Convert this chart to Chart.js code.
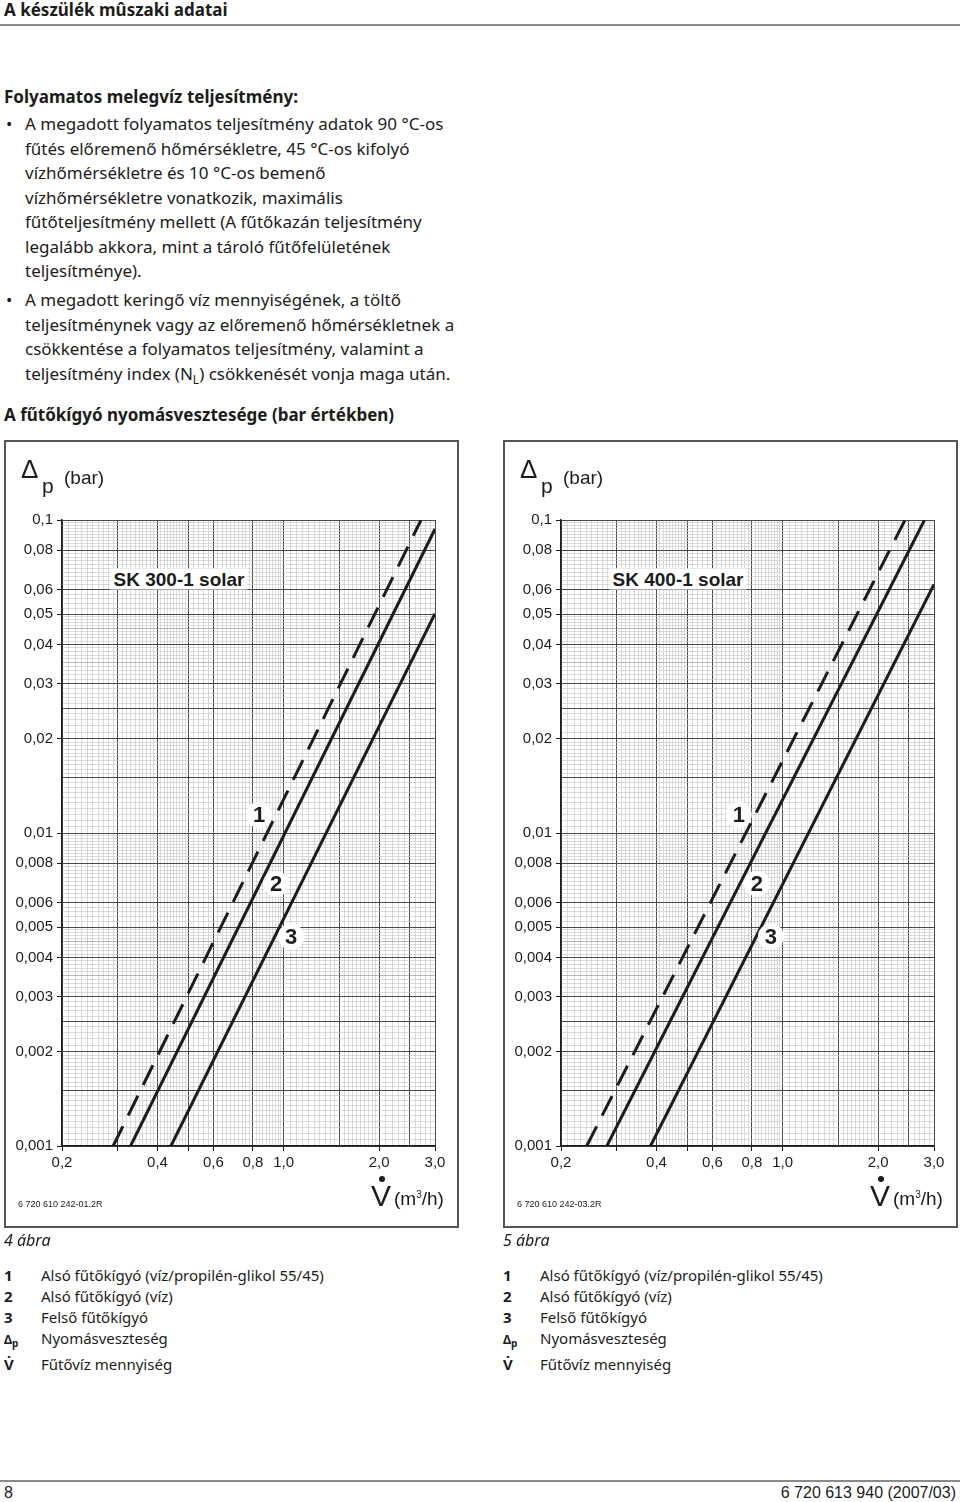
<!DOCTYPE html>
<html lang="hu">
<head>
<meta charset="utf-8">
<title>A készülék műszaki adatai</title>
<script src="https://cdn.jsdelivr.net/npm/chart.js@4.4.1/dist/chart.umd.min.js"></script>
<style>
  body { margin:0; width:960px; height:1502px; position:relative; overflow:hidden; background:#fff; color:#1c1c1c; font-family:"Noto Sans", sans-serif; font-size:17px; }
  .abs { position:absolute; white-space:nowrap; }
  .rule { position:absolute; left:0; width:960px; height:2px; background:#8a8a8a; }
  .bold { font-weight:bold; }
  .para { line-height:24.5px; }
  .box { position:absolute; top:440px; width:455px; height:788px; border:2px solid #555; box-sizing:border-box; }
  .plot { position:absolute; top:440px; width:480px; height:800px; }
  .ov { position:absolute; white-space:nowrap; font-family:"Liberation Sans", Arial, sans-serif; color:#1c1c1c; line-height:1; z-index:3; }
  .sk { font-weight:bold; font-size:19px; background:#fff; padding:1px 3px; transform:translate(-50%,-50%); }
  .legend { line-height:21px; font-size:15px; }
  .legend .k { display:inline-block; width:37px; font-weight:bold; }
  .footer { font-family:"Liberation Sans Narrow", "Liberation Sans", sans-serif; font-stretch:condensed; font-size:16px; }
</style>
</head>
<body>

<div class="abs bold" style="left:4px; top:0; font-size:17px; line-height:20px;">A készülék mûszaki adatai</div>
<div class="rule" style="top:24px;"></div>

<div class="abs bold" style="left:4px; top:85px; line-height:24px;">Folyamatos melegvíz teljesítmény:</div>
<div class="abs" style="left:6px; top:112px; line-height:24.5px;">•</div>
<div class="abs para" style="left:25px; top:112px;">A megadott folyamatos teljesítmény adatok 90 °C-os<br>fűtés előremenő hőmérsékletre, 45 °C-os kifolyó<br>vízhőmérsékletre és 10 °C-os bemenő<br>vízhőmérsékletre vonatkozik, maximális<br>fűtőteljesítmény mellett (A fűtőkazán teljesítmény<br>legalább akkora, mint a tároló fűtőfelületének<br>teljesítménye).</div>
<div class="abs" style="left:6px; top:288px; line-height:24.5px;">•</div>
<div class="abs para" style="left:25px; top:288px;">A megadott keringő víz mennyiségének, a töltő<br>teljesítménynek vagy az előremenő hőmérsékletnek a<br>csökkentése a folyamatos teljesítmény, valamint a<br>teljesítmény index (N<sub style="font-size:12px;">L</sub>) csökkenését vonja maga után.</div>

<div class="abs bold" style="left:4px; top:403px; line-height:24px;">A fűtőkígyó nyomásvesztesége (bar értékben)</div>

<div class="box" style="left:4px;"></div>
<div class="box" style="left:503px;"></div>
<div class="plot" style="left:0;"><canvas id="chartSK300"></canvas></div>
<div class="plot" style="left:480px;"><canvas id="chartSK400"></canvas></div>
<div id="overlays"></div>

<div class="abs" style="left:4px; top:1229px; font-style:italic; font-size:16px; line-height:22px;">4 ábra</div>
<div class="abs" style="left:503px; top:1229px; font-style:italic; font-size:16px; line-height:22px;">5 ábra</div>

<div class="abs legend" style="left:4px; top:1265px;">
  <div><span class="k">1</span>Alsó fűtőkígyó (víz/propilén-glikol 55/45)</div>
  <div><span class="k">2</span>Alsó fűtőkígyó (víz)</div>
  <div><span class="k">3</span>Felső fűtőkígyó</div>
  <div><span class="k" style="font-size:12px;">Δ<sub>p</sub></span>Nyomásveszteség</div>
  <div><span class="k">V̇</span>Fűtővíz mennyiség</div>
</div>
<div class="abs legend" style="left:503px; top:1265px;">
  <div><span class="k">1</span>Alsó fűtőkígyó (víz/propilén-glikol 55/45)</div>
  <div><span class="k">2</span>Alsó fűtőkígyó (víz)</div>
  <div><span class="k">3</span>Felső fűtőkígyó</div>
  <div><span class="k" style="font-size:12px;">Δ<sub>p</sub></span>Nyomásveszteség</div>
  <div><span class="k">V̇</span>Fűtővíz mennyiség</div>
</div>

<div class="rule" style="top:1480px;"></div>
<div class="abs footer" style="left:4px; top:1484px;">8</div>
<div class="abs footer" style="right:4px; top:1484px;">6 720 613 940 (2007/03)</div>

<script>
// Δp (bar) vs. flow V (m3/h)
const sk300Curve1Flow = [0.29, 2.71];
const sk300Curve1Dp   = [0.001, 0.1];
const sk300Curve2Flow = [0.329, 3.0];
const sk300Curve2Dp   = [0.001, 0.0936];
const sk300Curve3Flow = [0.441, 3.0];
const sk300Curve3Dp   = [0.001, 0.0502];

const sk400Curve1Flow = [0.241, 2.43];
const sk400Curve1Dp   = [0.001, 0.1];
const sk400Curve2Flow = [0.279, 2.80];
const sk400Curve2Dp   = [0.001, 0.1];
const sk400Curve3Flow = [0.383, 3.0];
const sk400Curve3Dp   = [0.001, 0.0623];

const curveNames = ['1', '2', '3'];

const xTickValues = [0.2, 0.3, 0.4, 0.5, 0.6, 0.8, 1.0, 2.0, 3.0];
const xTickLabels = ['0,2', '', '0,4', '', '0,6', '0,8', '1,0', '2,0', '3,0'];
const yTickValues = [0.001, 0.002, 0.003, 0.004, 0.005, 0.006, 0.008, 0.01, 0.02, 0.03, 0.04, 0.05, 0.06, 0.08, 0.1];
const yTickLabels = ['0,001', '0,002', '0,003', '0,004', '0,005', '0,006', '0,008', '0,01', '0,02', '0,03', '0,04', '0,05', '0,06', '0,08', '0,1'];

// where the curve numbers sit (data coords)
const sk300BadgeFlow = [0.837, 0.946, 1.055];
const sk400BadgeFlow = [0.727, 0.829, 0.918];
const badgeDp = [0.01144, 0.00689, 0.00466];

// log paper grid
const xMajor = [0.2, 0.3, 0.4, 0.5, 0.6, 0.8, 1, 1.5, 2, 2.5, 3];
const yMajor = [0.001, 0.0015, 0.002, 0.0025, 0.003, 0.004, 0.005, 0.006, 0.008, 0.01, 0.015, 0.02, 0.025, 0.03, 0.04, 0.05, 0.06, 0.08, 0.1];
const yMedium = [0.0035, 0.0045, 0.035, 0.045];

function steps(a, b, s) {
    const out = [];
    for (let i = 0; a + i * s <= b + s / 100; i++) out.push(+(a + i * s).toPrecision(6));
    return out;
}
function uniq(arr) {
    const seen = new Set();
    return arr.filter(v => { const k = v.toPrecision(6); if (seen.has(k)) return false; seen.add(k); return true; }).sort((a, b) => a - b);
}
function has(list, v) { return list.some(t => Math.abs(t - v) / t < 1e-6); }

const xGrid = uniq([...steps(0.2, 0.5, 0.01), ...steps(0.5, 1, 0.02), ...steps(1, 2, 0.05), ...steps(2, 3, 0.1)]);
const yGrid = uniq([0.001, 0.01].flatMap(d => [...steps(d, 2 * d, d * 0.05), ...steps(2 * d, 5 * d, d * 0.1), ...steps(5 * d, 10 * d, d * 0.2)]).filter(v => v <= 0.1 + 1e-9));

const badgePlugin = {
    id: 'badges',
    afterDatasetsDraw(chart, args, opts) {
        const { ctx, scales: { x, y } } = chart;
        opts.flow.forEach((f, i) => {
            const px = x.getPixelForValue(f), py = y.getPixelForValue(opts.dp[i]);
            ctx.save();
            ctx.fillStyle = '#fff';
            ctx.beginPath();
            ctx.arc(px, py, 13, 0, Math.PI * 2);
            ctx.fill();
            ctx.fillStyle = '#1c1c1c';
            ctx.font = 'bold 22px "Liberation Sans", Arial, sans-serif';
            ctx.textAlign = 'center';
            ctx.textBaseline = 'middle';
            ctx.fillText(opts.text[i], px, py + 1);
            ctx.restore();
        });
    }
};

function curve(flow, dp, dashed) {
    return {
        data: flow.map((f, i) => ({ x: f, y: dp[i] })),
        borderColor: '#1c1c1c',
        borderWidth: 3,
        borderDash: dashed ? [22, 12] : [],
        pointRadius: 0,
        fill: false
    };
}

function gridColor(c, major, medium) {
    const v = c.tick.value;
    if (has(major, v)) return '#4a4a4a';
    if (has(medium, v)) return '#8a8a8a';
    return '#c2c2c2';
}

function makeChart(id, datasets, badgeFlow, axisWidth, padRight) {
    new Chart(document.getElementById(id), {
        type: 'line',
        data: { datasets },
        plugins: [badgePlugin],
        options: {
            responsive: true,
            maintainAspectRatio: false,
            animation: false,
            layout: { padding: { top: 80, right: padRight, bottom: 0, left: 0 } },
            plugins: {
                legend: { display: false },
                tooltip: { enabled: false },
                badges: { flow: badgeFlow, dp: badgeDp, text: curveNames }
            },
            scales: {
                x: {
                    type: 'logarithmic', min: 0.2, max: 3,
                    afterBuildTicks: s => { s.ticks = xGrid.map(v => ({ value: v })); },
                    afterFit: s => { s.height = 94; },
                    ticks: {
                        autoSkip: false, maxRotation: 0, padding: 3,
                        color: '#1c1c1c', font: { family: 'Liberation Sans', size: 15 },
                        callback: v => { const i = xTickValues.findIndex(t => Math.abs(t - v) < 1e-6); return i < 0 ? '' : xTickLabels[i]; }
                    },
                    grid: {
                        color: c => gridColor(c, xMajor, []),
                        lineWidth: c => has(xMajor, c.tick.value) ? 1 : 0.6,
                        tickColor: c => has(xTickValues, c.tick.value) ? '#1c1c1c' : 'rgba(0,0,0,0)',
                        tickLength: 5
                    },
                    border: { color: '#1c1c1c', width: 1.5 }
                },
                y: {
                    type: 'logarithmic', min: 0.001, max: 0.1,
                    afterBuildTicks: s => { s.ticks = yGrid.map(v => ({ value: v })); },
                    afterFit: s => { s.width = axisWidth; },
                    ticks: {
                        autoSkip: false, padding: 4,
                        color: '#1c1c1c', font: { family: 'Liberation Sans', size: 15 },
                        callback: v => { const i = yTickValues.findIndex(t => Math.abs(t - v) / t < 1e-6); return i < 0 ? '' : yTickLabels[i]; }
                    },
                    grid: {
                        color: c => gridColor(c, yMajor, yMedium),
                        lineWidth: c => has(yMajor, c.tick.value) ? 1 : 0.6,
                        tickColor: c => has(yTickValues, c.tick.value) ? '#1c1c1c' : 'rgba(0,0,0,0)',
                        tickLength: 5
                    },
                    border: { color: '#1c1c1c', width: 1.5 }
                }
            }
        }
    });
}

makeChart('chartSK300', [
    curve(sk300Curve1Flow, sk300Curve1Dp, true),
    curve(sk300Curve2Flow, sk300Curve2Dp, false),
    curve(sk300Curve3Flow, sk300Curve3Dp, false)
], sk300BadgeFlow, 62, 45);

makeChart('chartSK400', [
    curve(sk400Curve1Flow, sk400Curve1Dp, true),
    curve(sk400Curve2Flow, sk400Curve2Dp, false),
    curve(sk400Curve3Flow, sk400Curve3Dp, false)
], sk400BadgeFlow, 81, 26);

// axis captions, model names and drawing codes
const panels = [
    { dx: 0, model: 'SK 300-1 solar', code: '6 720 610 242-01.2R' },
    { dx: 499, model: 'SK 400-1 solar', code: '6 720 610 242-03.2R' }
];
const ov = document.getElementById('overlays');
panels.forEach(p => {
    const add = (html, css) => { const d = document.createElement('div'); d.className = 'ov'; d.style.cssText = css; d.innerHTML = html; ov.appendChild(d); };
    add('Δ', `left:${21 + p.dx}px; top:456px; font-size:26px;`);
    add('p', `left:${42 + p.dx}px; top:475px; font-size:21px;`);
    add('(bar)', `left:${64 + p.dx}px; top:468px; font-size:19px;`);
    add(p.model, `left:${179 + p.dx}px; top:579px;`);
    ov.lastChild.classList.add('sk');
    add('V', `left:${371 + p.dx}px; top:1181px; font-size:30px;`);
    add('', `left:${379 + p.dx}px; top:1176px; width:6px; height:6px; border-radius:50%; background:#1c1c1c;`);
    add('(m<sup style="font-size:10px;">3</sup>/h)', `left:${394 + p.dx}px; top:1189px; font-size:19px;`);
    add(p.code, `left:${18 + p.dx}px; top:1200px; font-size:9px;`);
});
</script>
</body>
</html>
